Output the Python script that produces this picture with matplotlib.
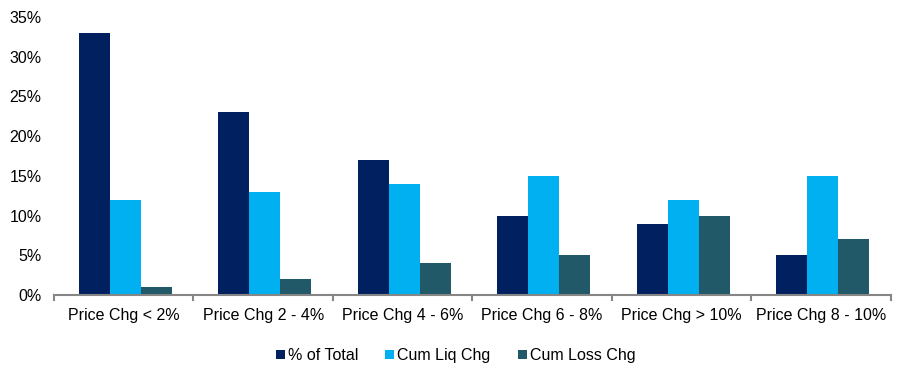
import matplotlib
matplotlib.use("Agg")
import matplotlib.pyplot as plt
import numpy as np
from matplotlib.ticker import FuncFormatter

categories = ["Price Chg < 2%", "Price Chg 2 - 4%", "Price Chg 4 - 6%",
              "Price Chg 6 - 8%", "Price Chg > 10%", "Price Chg 8 - 10%"]
pct_total = [33, 23, 17, 10, 9, 5]
cum_liq = [12, 13, 14, 15, 12, 15]
cum_loss = [1, 2, 4, 5, 10, 7]
series_names = ["% of Total", "Cum Liq Chg", "Cum Loss Chg"]
colors = ["#002060", "#00B0F0", "#215968"]

plt.rcParams['font.family'] = ['Liberation Sans', 'DejaVu Sans']
fs = 11.5
fig = plt.figure(figsize=(8.99, 3.79), dpi=100)
ax = fig.add_axes([0.06, 0.2216, 0.931, 0.7334])

x = np.arange(len(categories))
w = 0.222
for i, (vals, name, c) in enumerate(zip([pct_total, cum_liq, cum_loss], series_names, colors)):
    ax.bar(x + 0.01 + (i - 1) * w, vals, width=w, color=c, label=name)

ax.set_xlim(-0.5, len(categories) - 0.5)
ax.set_ylim(0, 35)
ax.set_yticks(range(0, 36, 5))
ax.yaxis.set_major_formatter(FuncFormatter(lambda v, p: f"{int(v)}%"))
ax.tick_params(axis='y', length=0, labelsize=fs, pad=9)
ax.set_xticks(x)
ax.set_xticklabels(categories, fontsize=fs)
ax.tick_params(axis='x', length=0, pad=9)
for b in np.arange(-0.5, len(categories), 1.0):
    ax.plot([b, b], [0, -0.018], transform=ax.get_xaxis_transform(), color="#868686", lw=1.5, clip_on=False)
for s in ["top", "right", "left"]:
    ax.spines[s].set_visible(False)
ax.spines["bottom"].set_color("#868686")
ax.spines["bottom"].set_linewidth(1.5)

ax.legend(loc="upper center", bbox_to_anchor=(0.48, -0.14), ncol=3, frameon=False,
          fontsize=fs, handlelength=0.55, handleheight=0.55, handletextpad=0.2, columnspacing=1.7)

fig.savefig("out.png", dpi=100)
